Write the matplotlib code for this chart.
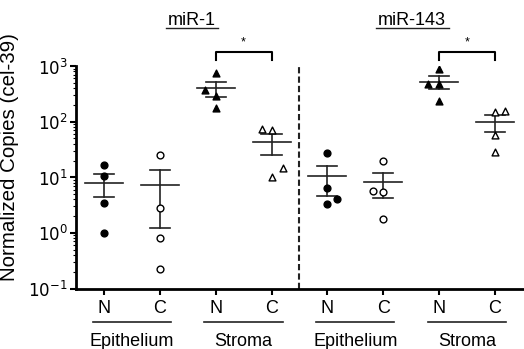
import matplotlib
matplotlib.use('Agg')
import matplotlib.pyplot as plt
import numpy as np

plt.rcParams['font.family'] = ['Liberation Sans', 'DejaVu Sans']

# group order: miR-1 (Epi N, Epi C, Str N, Str C), miR-143 (same)
mir1_epi_n = [16.7, 10.4, 3.5, 1.0]
mir1_epi_c = [25.5, 2.75, 0.82, 0.22]
mir1_str_n = [743, 372, 294, 174]
mir1_str_c = [74, 71, 14.5, 10.3]
mir143_epi_n = [27.7, 6.5, 4.0, 3.27]
mir143_epi_c = [19.6, 5.67, 5.37, 1.78]
mir143_str_n = [887, 476, 476, 239]
mir143_str_c = [148, 158, 57.6, 28.2]

groups = [mir1_epi_n, mir1_epi_c, mir1_str_n, mir1_str_c,
          mir143_epi_n, mir143_epi_c, mir143_str_n, mir143_str_c]
tick_labels = ['N', 'C', 'N', 'C', 'N', 'C', 'N', 'C']
tissue_labels = ['Epithelium', 'Stroma', 'Epithelium', 'Stroma']
mir_titles = ['miR-1', 'miR-143']

# horizontal jitter of overlapping points
jitter = [[0, 0, 0, 0], [0, 0, 0, 0], [0, -0.19, 0, 0], [-0.17, 0, 0.2, 0],
          [0, 0, 0.18, 0], [0, -0.18, 0, 0], [0, -0.19, 0, 0], [0, 0.18, 0, 0]]
markers = ['o', 'o', '^', '^', 'o', 'o', '^', '^']
filled = [True, False, True, False, True, False, True, False]

fig = plt.figure(figsize=(5.24, 3.49), dpi=100)
ax = fig.add_axes([76 / 524, 1 - 288.5 / 349, 1 - 76 / 524, (288.5 - 66) / 349])

for i, vals in enumerate(groups):
    x = i + 1
    xs = [x + j for j in jitter[i]]
    ax.scatter(xs, vals, marker=markers[i], s=24,
               facecolors='black' if filled[i] else 'white',
               edgecolors='black', linewidths=1.0, zorder=3)
    v = np.array(vals)
    m = v.mean()
    sem = v.std(ddof=1) / np.sqrt(len(v))
    ax.plot([x - 0.34, x + 0.34], [m, m], color='#222222', lw=1.2, zorder=2)
    ax.plot([x - 0.18, x + 0.18], [m + sem, m + sem], color='#222222', lw=1.2, zorder=2)
    ax.plot([x - 0.18, x + 0.18], [m - sem, m - sem], color='#222222', lw=1.2, zorder=2)
    ax.plot([x, x], [m - sem, m + sem], color='#222222', lw=1.2, zorder=2)

ax.set_yscale('log')
ax.set_ylim(0.1, 1000)
ax.set_xlim(0.5, 8.52)
ax.set_yticks([0.1, 1, 10, 100, 1000])
ax.set_yticklabels([r'$10^{-1}$', r'$10^{0}$', r'$10^{1}$', r'$10^{2}$', r'$10^{3}$'])
ax.set_xticks(range(1, 9))
ax.set_xticklabels(tick_labels, fontsize=13)
ax.tick_params(axis='y', which='major', length=4, width=1.5, labelsize=12, pad=2)
ax.tick_params(axis='y', which='minor', length=2.5, width=0.8)
ax.tick_params(axis='x', length=4, width=1.5, pad=4)
for s in ['top', 'right']:
    ax.spines[s].set_visible(False)
for s in ['left', 'bottom']:
    ax.spines[s].set_linewidth(2)
ax.set_ylabel('Normalized Copies (cel-39)', fontsize=14.8)
ax.yaxis.set_label_coords(-0.128, 0.59)

# dashed separator
ax.plot([4.5, 4.5], [0.1, 1000], ls=(0, (3, 1.5)), color='#222222', lw=1.5, clip_on=False)

# significance brackets
for a, b in [(3, 4), (7, 8)]:
    ax.plot([a, a, b, b], [1300, 1790, 1790, 1300], color='black', lw=1.5, clip_on=False)
    ax.text((a + b) / 2, 2100, '*', ha='center', va='bottom', fontsize=9)

# group underlines and tissue labels
trans = ax.get_xaxis_transform()
for k, lab in enumerate(tissue_labels):
    x0 = 2 * k + 1
    ax.plot([x0 - 0.2, x0 + 1.2], [-0.15, -0.15], color='#222222', lw=1.2,
            transform=trans, clip_on=False)
    ax.text(x0 + 0.5, -0.2, lab, transform=trans, ha='center', va='top', fontsize=13)

# miRNA titles, underlined
for xc, hw, t in zip([2.58, 6.52], [0.46, 0.65], mir_titles):
    ax.text(xc, 1.186, t, transform=trans, ha='center', va='baseline', fontsize=13)
    ax.plot([xc - hw, xc + hw], [1.169, 1.169], color='#222222', lw=1,
            transform=trans, clip_on=False)

fig.savefig('out.png', dpi=100)
